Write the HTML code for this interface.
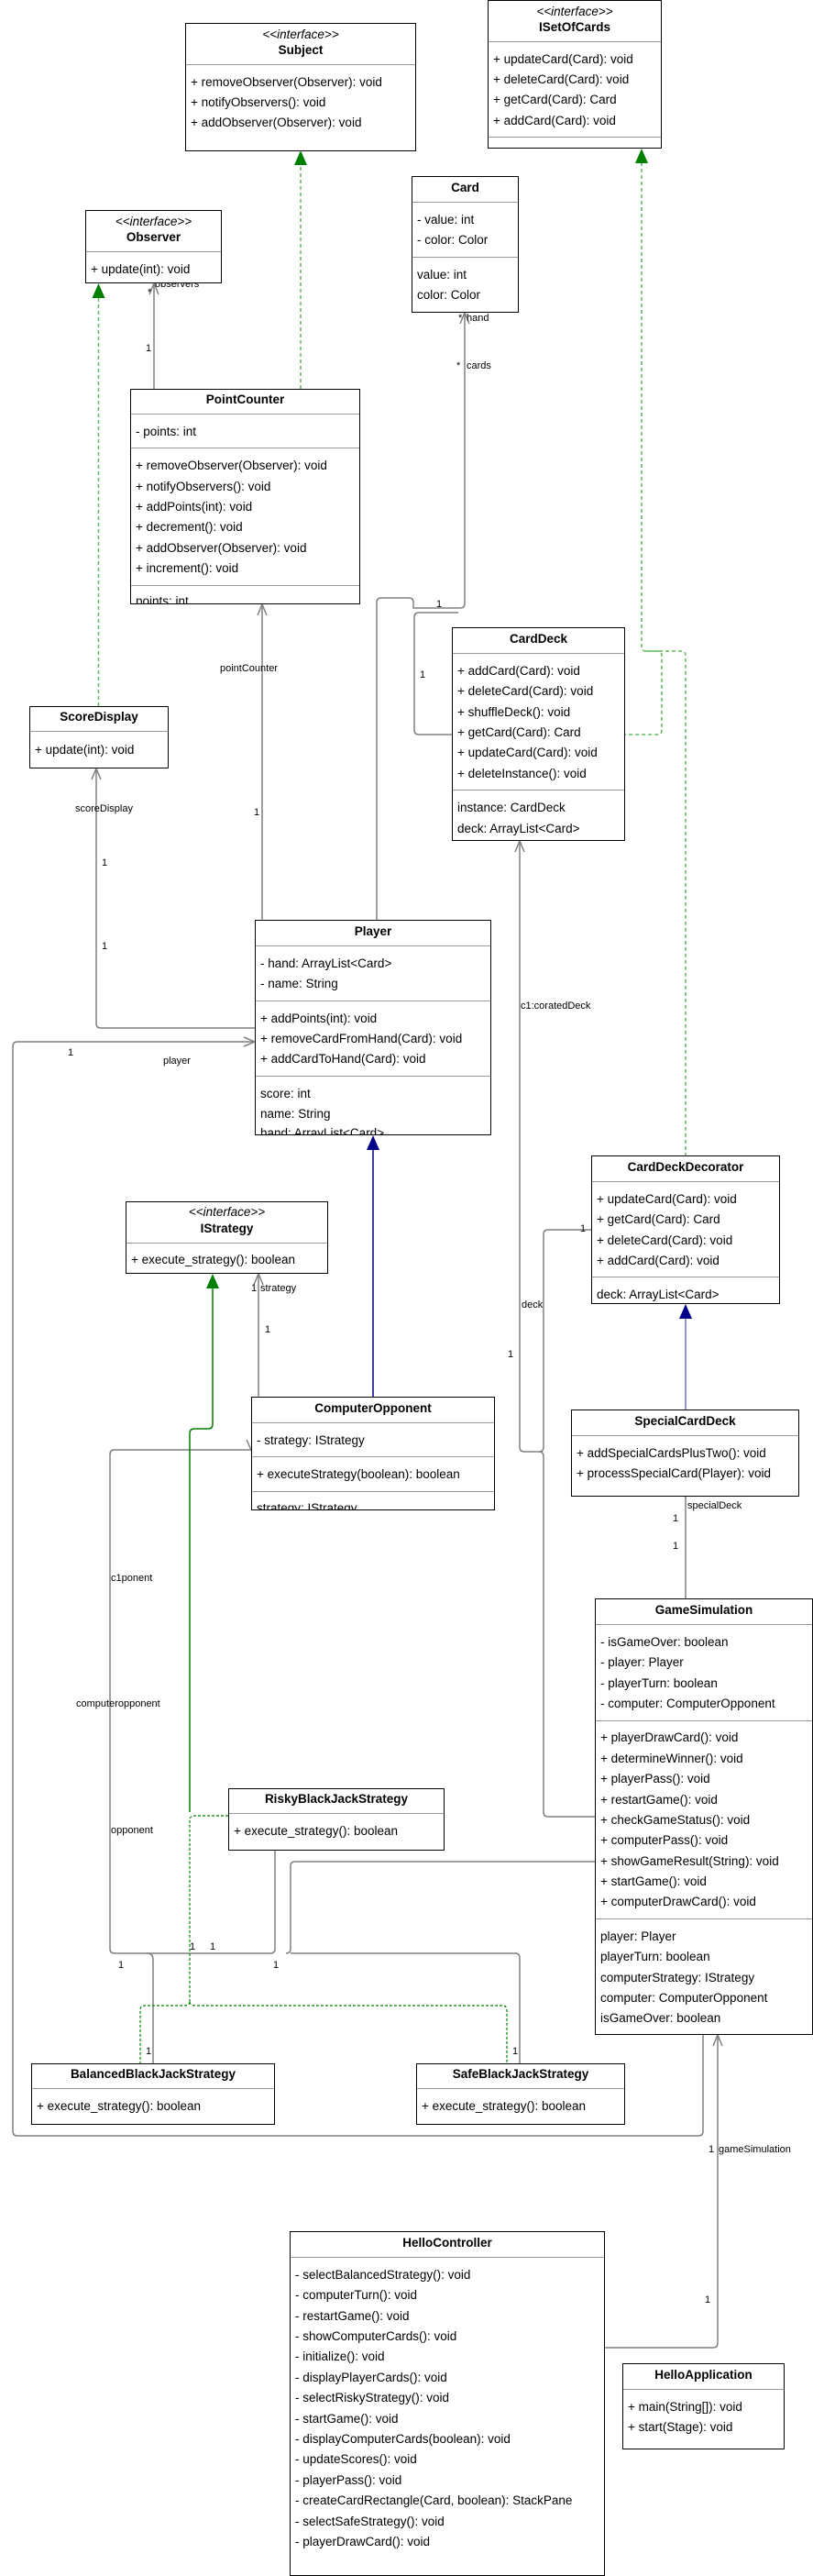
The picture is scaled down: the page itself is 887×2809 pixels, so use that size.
<!DOCTYPE html>
<html><head><meta charset="utf-8">
<style>
html,body{margin:0;padding:0;background:#fff;}
body{width:887px;height:2809px;position:relative;overflow:hidden;font-family:"Liberation Sans",Arial,sans-serif;font-size:13.5px;color:#000;}
.b{position:absolute;border:1.5px solid #000;background:#fff;box-sizing:border-box;overflow:hidden;}
.r{position:absolute;left:5px;height:22px;line-height:22px;white-space:nowrap;}
.n{position:absolute;left:0;right:0;text-align:center;font-weight:bold;height:22px;line-height:22px;white-space:nowrap;}
.s{position:absolute;left:0;right:0;text-align:center;font-style:italic;height:22px;line-height:22px;white-space:nowrap;}
.h{position:absolute;left:0;right:0;height:0;border-top:1.5px solid #999;}
svg{position:absolute;left:0;top:0;}
.l{position:absolute;font-size:11px;white-space:nowrap;line-height:12px;}
</style></head><body>

<svg width="887" height="2809" viewBox="0 0 887 2809" fill="none">
<g stroke="#808080" stroke-width="1.5">
<!-- Observer - PointCounter -->
<path d="M168 424 V309"/><path d="M163 321 L168 309 L173 321"/>
<!-- Player to Card hand -->
<path d="M411 1003 V657 Q411 652 416 652 H446 Q451 652 451 657 V663 H502 Q507 663 507 658 V341"/>
<path d="M502 353 L507 341 L512 353"/>
<path d="M493 801 H457 Q452 801 452 796 V673 Q452 668 457 668 H500"/>
<!-- PointCounter -> Player -->
<path d="M286 1003 V659"/><path d="M281 671 L286 659 L291 671"/>
<!-- ScoreDisplay -->
<path d="M105 838 V1116 Q105 1121 110 1121 H278"/><path d="M100 850 L105 838 L110 850"/>
<!-- player big loop -->
<path d="M278 1136 H19 Q14 1136 14 1141 V2324 Q14 2329 19 2329 H762 Q767 2329 767 2324 V2219"/>
<path d="M266 1131 L278 1136 L266 1141"/>
<!-- CardDeck decoratedDeck -->
<path d="M567 917 V1578 Q567 1583 572 1583 H588 Q593 1583 593 1588 V1976 Q593 1981 598 1981 H649"/>
<path d="M562 929 L567 917 L572 929"/>
<path d="M645 1341 H598 Q593 1341 593 1346 V1578 Q593 1583 588 1583"/>
<!-- IStrategy strategy -->
<path d="M282 1523 V1389"/><path d="M277 1401 L282 1389 L287 1401"/>
<!-- CO association -->
<path d="M274 1581 H125 Q120 1581 120 1586 V2125 Q120 2130 125 2130 H295 Q300 2130 300 2125 V2018"/>
<path d="M269 1570 L274 1581 L279 1570"/>
<path d="M649 2030 H322 Q317 2030 317 2035 V2125 Q317 2130 312 2130"/>
<path d="M160 2130 Q167 2130 167 2137 V2250"/>
<path d="M317 2130 H562 Q567 2130 567 2135 V2250"/>
<!-- specialDeck -->
<path d="M748 1743 V1632"/>
<!-- gameSimulation -->
<path d="M660 2560 H778 Q783 2560 783 2555 V2219"/><path d="M778 2231 L783 2219 L788 2231"/>
</g>
<!-- inheritance navy -->
<g stroke="#00008b" stroke-width="1.5"><path d="M407 1523 V1252"/></g>
<path d="M400 1254 L407 1238 L414 1254 Z" fill="#00008b"/>
<g stroke="#7070c0" stroke-width="1.5"><path d="M748 1537 V1436"/></g>
<path d="M741 1438 L748 1422 L755 1438 Z" fill="#00008b"/>
<!-- realization green -->
<g stroke="#5cb85c" stroke-width="1.5" stroke-dasharray="4,3">
<path d="M328 424 V180"/>
<path d="M107.5 770 V322"/>
<path d="M700 177 V705 Q700 710 705 710 H717 Q722 710 722 715 V796 Q722 801 717 801 H682"/>
<path d="M705 710 H743 Q748 710 748 715 V1260"/>
</g>
<path d="M321 180 L328 164 L335 180 Z" fill="#008000"/>
<path d="M100.5 325 L107.5 309 L114.5 325 Z" fill="#008000"/>
<path d="M693 178 L700 162 L707 178 Z" fill="#008000"/>
<g stroke="#008000" stroke-width="1.5">
<path d="M232 1404 V1553 Q232 1558 227 1558 H212 Q207 1558 207 1563 V1976"/>
</g>
<path d="M225 1405 L232 1389 L239 1405 Z" fill="#008000"/>
<g stroke="#008000" stroke-width="1.2" stroke-dasharray="3,2">
<path d="M249 1980 H212 Q207 1980 207 1985 V2183"/>
<path d="M207 2183 Q207 2187 200 2187 H158 Q153 2187 153 2192 V2250"/>
<path d="M207 2183 Q207 2187 214 2187 H548 Q553 2187 553 2192 V2250"/>
</g>
</svg>

<!-- labels -->
<div class="l" style="left:169px;top:304px">observers</div>
<div class="l" style="left:161px;top:313px">*</div>
<div class="l" style="left:159px;top:374px">1</div>
<div class="l" style="left:500px;top:341px">*</div>
<div class="l" style="left:509px;top:341px">hand</div>
<div class="l" style="left:498px;top:393px">*</div>
<div class="l" style="left:509px;top:393px">cards</div>
<div class="l" style="left:476px;top:653px">1</div>
<div class="l" style="left:458px;top:730px">1</div>
<div class="l" style="left:240px;top:723px">pointCounter</div>
<div class="l" style="left:277px;top:880px">1</div>
<div class="l" style="left:82px;top:876px">scoreDisplay</div>
<div class="l" style="left:111px;top:935px">1</div>
<div class="l" style="left:111px;top:1026px">1</div>
<div class="l" style="left:74px;top:1142px">1</div>
<div class="l" style="left:178px;top:1151px">player</div>
<div class="l" style="left:568px;top:1091px">c1:coratedDeck</div>
<div class="l" style="left:569px;top:1417px">deck</div>
<div class="l" style="left:554px;top:1471px">1</div>
<div class="l" style="left:633px;top:1334px">1</div>
<div class="l" style="left:274px;top:1399px">1</div>
<div class="l" style="left:284px;top:1399px">strategy</div>
<div class="l" style="left:289px;top:1444px">1</div>
<div class="l" style="left:750px;top:1636px">specialDeck</div>
<div class="l" style="left:734px;top:1650px">1</div>
<div class="l" style="left:734px;top:1680px">1</div>
<div class="l" style="left:121px;top:1715px">c1ponent</div>
<div class="l" style="left:83px;top:1852px">computeropponent</div>
<div class="l" style="left:121px;top:1990px">opponent</div>
<div class="l" style="left:207px;top:2117px">1</div>
<div class="l" style="left:229px;top:2117px">1</div>
<div class="l" style="left:129px;top:2137px">1</div>
<div class="l" style="left:298px;top:2137px">1</div>
<div class="l" style="left:159px;top:2231px">1</div>
<div class="l" style="left:559px;top:2231px">1</div>
<div class="l" style="left:773px;top:2338px">1</div>
<div class="l" style="left:784px;top:2338px">gameSimulation</div>
<div class="l" style="left:769px;top:2502px">1</div>

<!-- Subject -->
<div class="b" style="left:202px;top:25px;width:252px;height:140px">
<div class="s" style="top:1px">&lt;&lt;interface&gt;&gt;</div><div class="n" style="top:18px">Subject</div>
<div class="h" style="top:44px"></div>
<div class="r" style="top:53px">+ removeObserver(Observer): void</div>
<div class="r" style="top:75px">+ notifyObservers(): void</div>
<div class="r" style="top:97px">+ addObserver(Observer): void</div>
</div>
<!-- ISetOfCards -->
<div class="b" style="left:532px;top:0px;width:190px;height:162px">
<div class="s" style="top:1px">&lt;&lt;interface&gt;&gt;</div><div class="n" style="top:18px">ISetOfCards</div>
<div class="h" style="top:44px"></div>
<div class="r" style="top:53px">+ updateCard(Card): void</div>
<div class="r" style="top:75px">+ deleteCard(Card): void</div>
<div class="r" style="top:97px">+ getCard(Card): Card</div>
<div class="r" style="top:120px">+ addCard(Card): void</div>
<div class="h" style="top:148px"></div>
</div>
<!-- Card -->
<div class="b" style="left:449px;top:192px;width:117px;height:149px">
<div class="n" style="top:1px">Card</div>
<div class="h" style="top:27px"></div>
<div class="r" style="top:36px">- value: int</div>
<div class="r" style="top:58px">- color: Color</div>
<div class="h" style="top:87px"></div>
<div class="r" style="top:96px">value: int</div>
<div class="r" style="top:118px">color: Color</div>
</div>
<!-- Observer -->
<div class="b" style="left:93px;top:229px;width:149px;height:80px">
<div class="s" style="top:1px">&lt;&lt;interface&gt;&gt;</div><div class="n" style="top:18px">Observer</div>
<div class="h" style="top:44px"></div>
<div class="r" style="top:53px">+ update(int): void</div>
</div>
<!-- PointCounter -->
<div class="b" style="left:142px;top:424px;width:251px;height:235px">
<div class="n" style="top:0px">PointCounter</div>
<div class="h" style="top:26px"></div>
<div class="r" style="top:35px">- points: int</div>
<div class="h" style="top:63px"></div>
<div class="r" style="top:72px">+ removeObserver(Observer): void</div>
<div class="r" style="top:95px">+ notifyObservers(): void</div>
<div class="r" style="top:117px">+ addPoints(int): void</div>
<div class="r" style="top:139px">+ decrement(): void</div>
<div class="r" style="top:162px">+ addObserver(Observer): void</div>
<div class="r" style="top:184px">+ increment(): void</div>
<div class="h" style="top:213px"></div>
<div class="r" style="top:220px">points: int</div>
</div>
<!-- ScoreDisplay -->
<div class="b" style="left:32px;top:770px;width:152px;height:68px">
<div class="n" style="top:0px">ScoreDisplay</div>
<div class="h" style="top:26px"></div>
<div class="r" style="top:36px">+ update(int): void</div>
</div>
<!-- CardDeck -->
<div class="b" style="left:493px;top:684px;width:189px;height:233px">
<div class="n" style="top:1px">CardDeck</div>
<div class="h" style="top:27px"></div>
<div class="r" style="top:36px">+ addCard(Card): void</div>
<div class="r" style="top:58px">+ deleteCard(Card): void</div>
<div class="r" style="top:81px">+ shuffleDeck(): void</div>
<div class="r" style="top:103px">+ getCard(Card): Card</div>
<div class="r" style="top:125px">+ updateCard(Card): void</div>
<div class="r" style="top:148px">+ deleteInstance(): void</div>
<div class="h" style="top:176px"></div>
<div class="r" style="top:185px">instance: CardDeck</div>
<div class="r" style="top:208px">deck: ArrayList&lt;Card&gt;</div>
</div>
<!-- Player -->
<div class="b" style="left:278px;top:1003px;width:258px;height:235px">
<div class="n" style="top:1px">Player</div>
<div class="h" style="top:27px"></div>
<div class="r" style="top:36px">- hand: ArrayList&lt;Card&gt;</div>
<div class="r" style="top:58px">- name: String</div>
<div class="h" style="top:87px"></div>
<div class="r" style="top:96px">+ addPoints(int): void</div>
<div class="r" style="top:118px">+ removeCardFromHand(Card): void</div>
<div class="r" style="top:140px">+ addCardToHand(Card): void</div>
<div class="h" style="top:169px"></div>
<div class="r" style="top:178px">score: int</div>
<div class="r" style="top:200px">name: String</div>
<div class="r" style="top:221px">hand: ArrayList&lt;Card&gt;</div>
</div>
<!-- IStrategy -->
<div class="b" style="left:137px;top:1310px;width:221px;height:79px">
<div class="s" style="top:0px">&lt;&lt;interface&gt;&gt;</div><div class="n" style="top:18px">IStrategy</div>
<div class="h" style="top:44px"></div>
<div class="r" style="top:52px">+ execute_strategy(): boolean</div>
</div>
<!-- CardDeckDecorator -->
<div class="b" style="left:645px;top:1260px;width:206px;height:162px">
<div class="n" style="top:1px">CardDeckDecorator</div>
<div class="h" style="top:27px"></div>
<div class="r" style="top:36px">+ updateCard(Card): void</div>
<div class="r" style="top:58px">+ getCard(Card): Card</div>
<div class="r" style="top:81px">+ deleteCard(Card): void</div>
<div class="r" style="top:103px">+ addCard(Card): void</div>
<div class="h" style="top:131px"></div>
<div class="r" style="top:140px">deck: ArrayList&lt;Card&gt;</div>
</div>
<!-- ComputerOpponent -->
<div class="b" style="left:274px;top:1523px;width:266px;height:124px">
<div class="n" style="top:1px">ComputerOpponent</div>
<div class="h" style="top:27px"></div>
<div class="r" style="top:36px">- strategy: IStrategy</div>
<div class="h" style="top:64px"></div>
<div class="r" style="top:73px">+ executeStrategy(boolean): boolean</div>
<div class="h" style="top:102px"></div>
<div class="r" style="top:110px">strategy: IStrategy</div>
</div>
<!-- SpecialCardDeck -->
<div class="b" style="left:623px;top:1537px;width:249px;height:95px">
<div class="n" style="top:1px">SpecialCardDeck</div>
<div class="h" style="top:27px"></div>
<div class="r" style="top:36px">+ addSpecialCardsPlusTwo(): void</div>
<div class="r" style="top:58px">+ processSpecialCard(Player): void</div>
</div>
<!-- GameSimulation -->
<div class="b" style="left:649px;top:1743px;width:238px;height:476px">
<div class="n" style="top:1px">GameSimulation</div>
<div class="h" style="top:27px"></div>
<div class="r" style="top:36px">- isGameOver: boolean</div>
<div class="r" style="top:58px">- player: Player</div>
<div class="r" style="top:81px">- playerTurn: boolean</div>
<div class="r" style="top:103px">- computer: ComputerOpponent</div>
<div class="h" style="top:132px"></div>
<div class="r" style="top:140px">+ playerDrawCard(): void</div>
<div class="r" style="top:163px">+ determineWinner(): void</div>
<div class="r" style="top:185px">+ playerPass(): void</div>
<div class="r" style="top:208px">+ restartGame(): void</div>
<div class="r" style="top:230px">+ checkGameStatus(): void</div>
<div class="r" style="top:252px">+ computerPass(): void</div>
<div class="r" style="top:275px">+ showGameResult(String): void</div>
<div class="r" style="top:297px">+ startGame(): void</div>
<div class="r" style="top:319px">+ computerDrawCard(): void</div>
<div class="h" style="top:348px"></div>
<div class="r" style="top:357px">player: Player</div>
<div class="r" style="top:379px">playerTurn: boolean</div>
<div class="r" style="top:402px">computerStrategy: IStrategy</div>
<div class="r" style="top:424px">computer: ComputerOpponent</div>
<div class="r" style="top:446px">isGameOver: boolean</div>
</div>
<!-- Risky -->
<div class="b" style="left:249px;top:1950px;width:236px;height:68px">
<div class="n" style="top:0px">RiskyBlackJackStrategy</div>
<div class="h" style="top:26px"></div>
<div class="r" style="top:35px">+ execute_strategy(): boolean</div>
</div>
<!-- Balanced -->
<div class="b" style="left:34px;top:2250px;width:266px;height:67px">
<div class="n" style="top:0px">BalancedBlackJackStrategy</div>
<div class="h" style="top:26px"></div>
<div class="r" style="top:35px">+ execute_strategy(): boolean</div>
</div>
<!-- Safe -->
<div class="b" style="left:454px;top:2250px;width:228px;height:67px">
<div class="n" style="top:0px">SafeBlackJackStrategy</div>
<div class="h" style="top:26px"></div>
<div class="r" style="top:35px">+ execute_strategy(): boolean</div>
</div>
<!-- HelloController -->
<div class="b" style="left:316px;top:2433px;width:344px;height:376px">
<div class="n" style="top:1px">HelloController</div>
<div class="h" style="top:27px"></div>
<div class="r" style="top:36px">- selectBalancedStrategy(): void</div>
<div class="r" style="top:58px">- computerTurn(): void</div>
<div class="r" style="top:81px">- restartGame(): void</div>
<div class="r" style="top:103px">- showComputerCards(): void</div>
<div class="r" style="top:125px">- initialize(): void</div>
<div class="r" style="top:148px">- displayPlayerCards(): void</div>
<div class="r" style="top:170px">- selectRiskyStrategy(): void</div>
<div class="r" style="top:193px">- startGame(): void</div>
<div class="r" style="top:215px">- displayComputerCards(boolean): void</div>
<div class="r" style="top:237px">- updateScores(): void</div>
<div class="r" style="top:260px">- playerPass(): void</div>
<div class="r" style="top:282px">- createCardRectangle(Card, boolean): StackPane</div>
<div class="r" style="top:305px">- selectSafeStrategy(): void</div>
<div class="r" style="top:327px">- playerDrawCard(): void</div>
</div>
<!-- HelloApplication -->
<div class="b" style="left:679px;top:2577px;width:177px;height:94px">
<div class="n" style="top:1px">HelloApplication</div>
<div class="h" style="top:27px"></div>
<div class="r" style="top:36px">+ main(String[]): void</div>
<div class="r" style="top:58px">+ start(Stage): void</div>
</div>

</body></html>
